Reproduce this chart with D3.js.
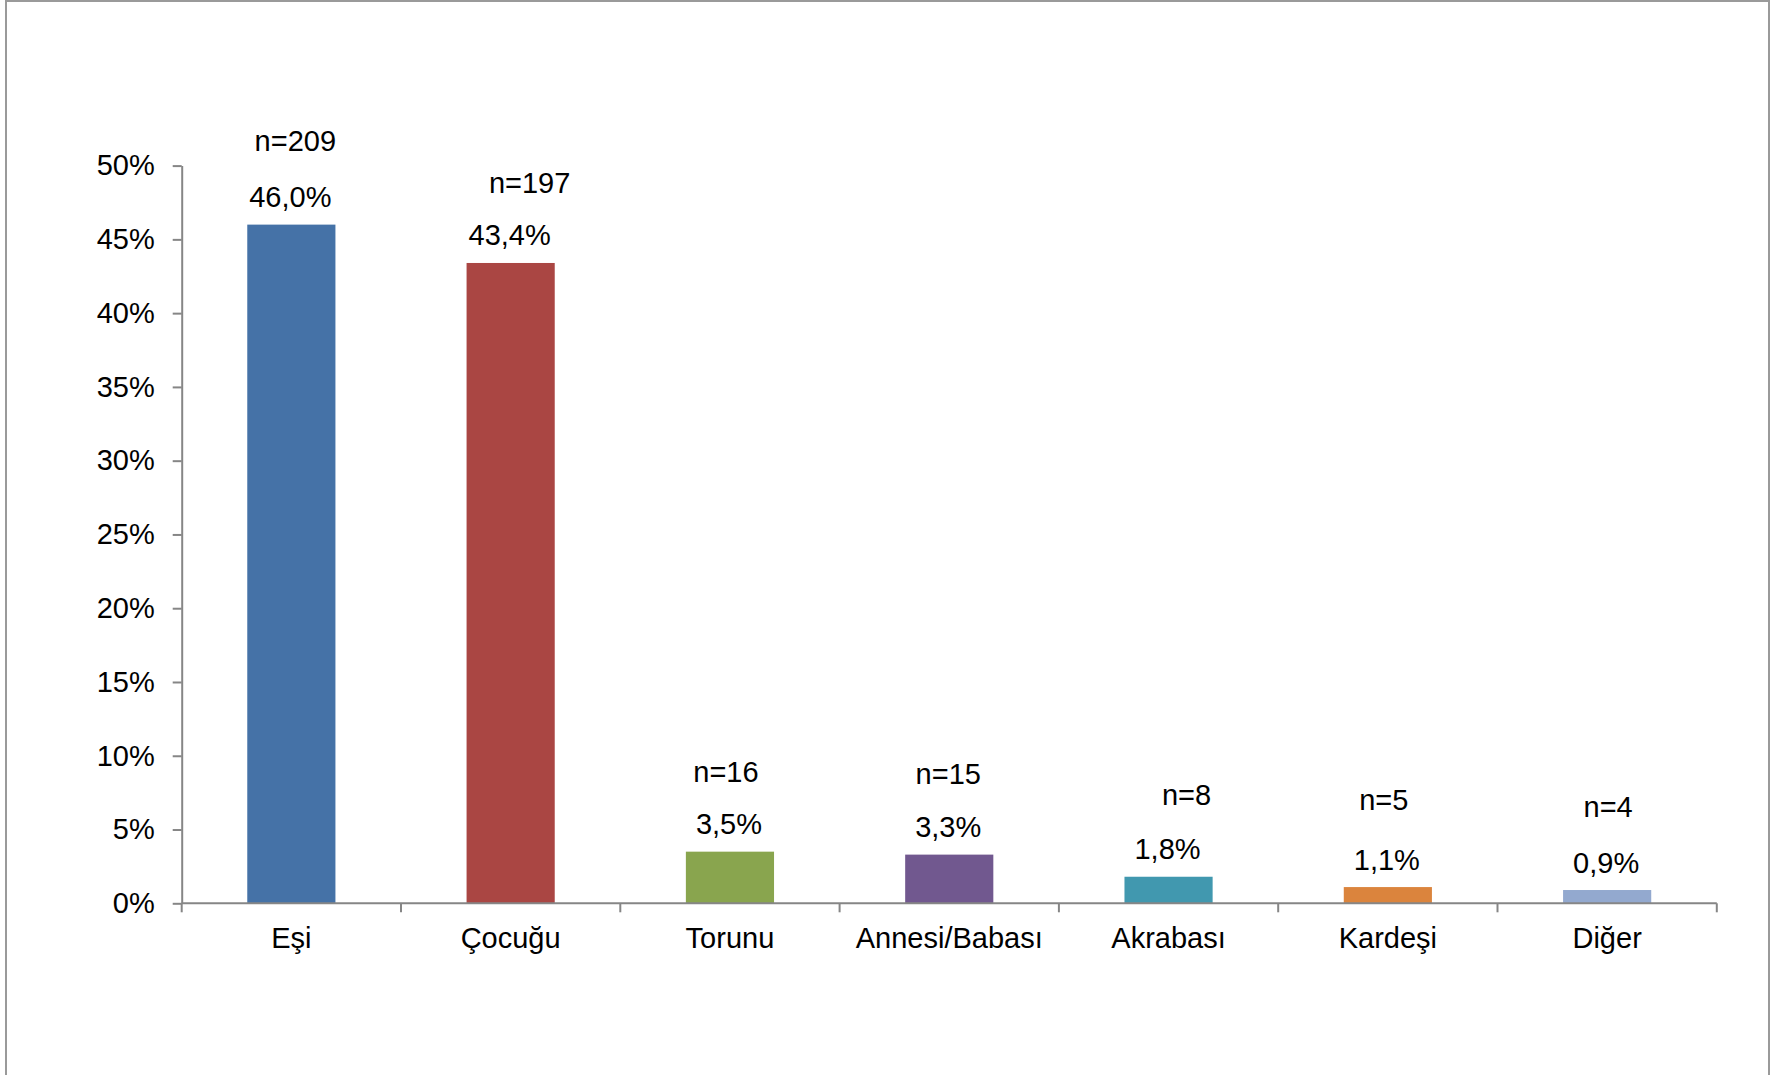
<!DOCTYPE html>
<html>
<head>
<meta charset="utf-8">
<script src="https://cdn.jsdelivr.net/npm/d3@7"></script>
<style>
  body { margin: 0; background: #fff; }
  text { font-family: "Liberation Sans", Arial, sans-serif; fill: #000; }
</style>
</head>
<body>
<div id="chart"></div>
<script>
// data
var categories = ["Eşi", "Çocuğu", "Torunu", "Annesi/Babası", "Akrabası", "Kardeşi", "Diğer"];
var percents = [46.0, 43.4, 3.5, 3.3, 1.8, 1.1, 0.9];
var counts = [209, 197, 16, 15, 8, 5, 4];
var yTicks = [0, 5, 10, 15, 20, 25, 30, 35, 40, 45, 50];

// colours and manual nudges of the "n=" labels
var colors = ["#4572A7", "#AA4643", "#89A54E", "#71588F", "#4198AF", "#DB843D", "#93A9CF"];
var nLabelDx = [4, 19, -4, -1, 18, -4, 1];
var nLabelGap = [56, 52, 52, 53, 54, 60, 56];

var width = 1779, height = 1075;
var plotLeft = 181.7, plotRight = 1716.8, plotTop = 165.6, plotBottom = 903.3;
var axisColor = "#868686";
var fontSize = "29px";

var svg = d3.select("#chart").append("svg")
	.attr("width", width)
	.attr("height", height);

svg.append("rect")
	.attr("x", 6).attr("y", 1)
	.attr("width", 1763).attr("height", 1200)
	.attr("fill", "#fff")
	.attr("stroke", "#9a9a9a")
	.attr("stroke-width", 2);

var x = d3.scaleBand()
	.domain(categories)
	.range([plotLeft, plotRight])
	.paddingInner(0.598)
	.paddingOuter(0.299);

var y = d3.scaleLinear()
	.domain([0, 50])
	.range([plotBottom, plotTop]);

var locale = d3.formatLocale({decimal: ",", thousands: ".", grouping: [3], currency: ["", ""]});
var fmt = locale.format(".1f");

// y axis
var yAxis = svg.append("g")
	.attr("transform", "translate(" + plotLeft + ",0)")
	.call(d3.axisLeft(y).tickValues(yTicks).tickSize(9).tickSizeOuter(0).tickPadding(18).tickFormat(function (d) { return d + "%"; }));
yAxis.select(".domain").attr("stroke", axisColor).attr("stroke-width", 2);
yAxis.selectAll(".tick line").attr("stroke", axisColor).attr("stroke-width", 2);
yAxis.selectAll(".tick text")
	.style("font-size", fontSize)
	.style("font-family", "Liberation Sans, Arial, sans-serif")
	.attr("fill", "#000");

// bars
svg.selectAll("rect.bar")
	.data(percents)
	.enter().append("rect")
	.attr("class", "bar")
	.attr("x", function (d, i) { return x(categories[i]); })
	.attr("y", function (d) { return y(d); })
	.attr("width", x.bandwidth())
	.attr("height", function (d) { return plotBottom - y(d); })
	.attr("fill", function (d, i) { return colors[i]; });

// x axis line + boundary ticks
svg.append("line")
	.attr("x1", plotLeft).attr("x2", plotRight)
	.attr("y1", plotBottom).attr("y2", plotBottom)
	.attr("stroke", axisColor).attr("stroke-width", 2);

var bounds = d3.range(categories.length + 1);
svg.selectAll("line.xtick")
	.data(bounds)
	.enter().append("line")
	.attr("class", "xtick")
	.attr("x1", function (d) { return plotLeft + d * x.step(); })
	.attr("x2", function (d) { return plotLeft + d * x.step(); })
	.attr("y1", plotBottom).attr("y2", plotBottom + 9)
	.attr("stroke", axisColor).attr("stroke-width", 2);

var cx = function (i) { return x(categories[i]) + x.bandwidth() / 2; };

// category labels
svg.selectAll("text.cat")
	.data(categories)
	.enter().append("text")
	.attr("class", "cat")
	.attr("x", function (d, i) { return cx(i); })
	.attr("y", 948)
	.attr("text-anchor", "middle")
	.style("font-size", fontSize)
	.text(function (d) { return d; });

// percent labels
svg.selectAll("text.pct")
	.data(percents)
	.enter().append("text")
	.attr("class", "pct")
	.attr("x", function (d, i) { return cx(i) - 1; })
	.attr("y", function (d) { return y(d) - 17.5; })
	.attr("text-anchor", "middle")
	.style("font-size", fontSize)
	.text(function (d) { return fmt(d) + "%"; });

// n labels
svg.selectAll("text.n")
	.data(counts)
	.enter().append("text")
	.attr("class", "n")
	.attr("x", function (d, i) { return cx(i) + nLabelDx[i]; })
	.attr("y", function (d, i) { return y(percents[i]) - 17.5 - nLabelGap[i]; })
	.attr("text-anchor", "middle")
	.style("font-size", fontSize)
	.text(function (d) { return "n=" + d; });
</script>
</body>
</html>
